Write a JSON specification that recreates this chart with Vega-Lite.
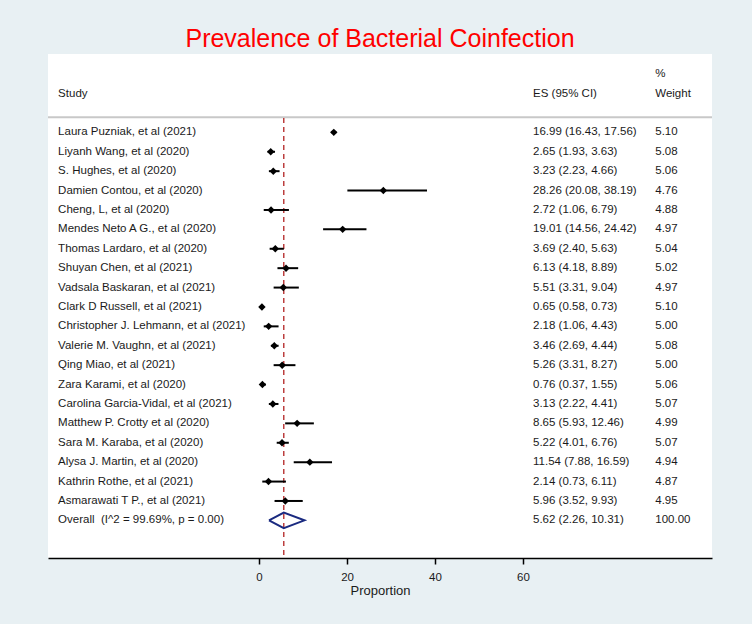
{
  "$schema": "https://vega.github.io/schema/vega-lite/v6.json",
  "width": 664,
  "height": 504,
  "autosize": {"type": "none"},
  "padding": {"left": 48, "top": 54, "right": 40, "bottom": 66},
  "background": "#e8f0f3",
  "title": {
    "text": "Prevalence of Bacterial Coinfection",
    "font": "Liberation Sans",
    "fontSize": 25,
    "fontWeight": "normal",
    "color": "#ff0000",
    "anchor": "middle",
    "frame": "group",
    "baseline": "bottom",
    "offset": -23
  },
  "config": {
    "view": {"fill": "white", "stroke": null},
    "text": {"font": "Liberation Sans", "fontSize": 11.5, "color": "#1a1a1a"}
  },
  "datasets": {
    "studies": [
      {"row": 1, "study": "Laura Puzniak, et al (2021)", "es": 16.99, "lo": 16.43, "hi": 17.56, "esci": "16.99 (16.43, 17.56)", "wt": "5.10"},
      {"row": 2, "study": "Liyanh Wang, et al (2020)", "es": 2.65, "lo": 1.93, "hi": 3.63, "esci": "2.65 (1.93, 3.63)", "wt": "5.08"},
      {"row": 3, "study": "S. Hughes, et al (2020)", "es": 3.23, "lo": 2.23, "hi": 4.66, "esci": "3.23 (2.23, 4.66)", "wt": "5.06"},
      {"row": 4, "study": "Damien Contou, et al (2020)", "es": 28.26, "lo": 20.08, "hi": 38.19, "esci": "28.26 (20.08, 38.19)", "wt": "4.76"},
      {"row": 5, "study": "Cheng, L, et al (2020)", "es": 2.72, "lo": 1.06, "hi": 6.79, "esci": "2.72 (1.06, 6.79)", "wt": "4.88"},
      {"row": 6, "study": "Mendes Neto A G., et al (2020)", "es": 19.01, "lo": 14.56, "hi": 24.42, "esci": "19.01 (14.56, 24.42)", "wt": "4.97"},
      {"row": 7, "study": "Thomas Lardaro, et al (2020)", "es": 3.69, "lo": 2.40, "hi": 5.63, "esci": "3.69 (2.40, 5.63)", "wt": "5.04"},
      {"row": 8, "study": "Shuyan Chen, et al (2021)", "es": 6.13, "lo": 4.18, "hi": 8.89, "esci": "6.13 (4.18, 8.89)", "wt": "5.02"},
      {"row": 9, "study": "Vadsala Baskaran, et al (2021)", "es": 5.51, "lo": 3.31, "hi": 9.04, "esci": "5.51 (3.31, 9.04)", "wt": "4.97"},
      {"row": 10, "study": "Clark D Russell, et al (2021)", "es": 0.65, "lo": 0.58, "hi": 0.73, "esci": "0.65 (0.58, 0.73)", "wt": "5.10"},
      {"row": 11, "study": "Christopher J. Lehmann, et al (2021)", "es": 2.18, "lo": 1.06, "hi": 4.43, "esci": "2.18 (1.06, 4.43)", "wt": "5.00"},
      {"row": 12, "study": "Valerie M. Vaughn, et al (2021)", "es": 3.46, "lo": 2.69, "hi": 4.44, "esci": "3.46 (2.69, 4.44)", "wt": "5.08"},
      {"row": 13, "study": "Qing Miao, et al (2021)", "es": 5.26, "lo": 3.31, "hi": 8.27, "esci": "5.26 (3.31, 8.27)", "wt": "5.00"},
      {"row": 14, "study": "Zara Karami, et al (2020)", "es": 0.76, "lo": 0.37, "hi": 1.55, "esci": "0.76 (0.37, 1.55)", "wt": "5.06"},
      {"row": 15, "study": "Carolina Garcia-Vidal, et al (2021)", "es": 3.13, "lo": 2.22, "hi": 4.41, "esci": "3.13 (2.22, 4.41)", "wt": "5.07"},
      {"row": 16, "study": "Matthew P. Crotty et al (2020)", "es": 8.65, "lo": 5.93, "hi": 12.46, "esci": "8.65 (5.93, 12.46)", "wt": "4.99"},
      {"row": 17, "study": "Sara M. Karaba, et al (2020)", "es": 5.22, "lo": 4.01, "hi": 6.76, "esci": "5.22 (4.01, 6.76)", "wt": "5.07"},
      {"row": 18, "study": "Alysa J. Martin, et al (2020)", "es": 11.54, "lo": 7.88, "hi": 16.59, "esci": "11.54 (7.88, 16.59)", "wt": "4.94"},
      {"row": 19, "study": "Kathrin Rothe, et al (2021)", "es": 2.14, "lo": 0.73, "hi": 6.11, "esci": "2.14 (0.73, 6.11)", "wt": "4.87"},
      {"row": 20, "study": "Asmarawati T P., et al (2021)", "es": 5.96, "lo": 3.52, "hi": 9.93, "esci": "5.96 (3.52, 9.93)", "wt": "4.95"}
    ],
    "overall": [
      {"row": 21, "study": "Overall\u00a0 (I^2 = 99.69%, p = 0.00)", "es": 5.62, "lo": 2.26, "hi": 10.31, "esci": "5.62 (2.26, 10.31)", "wt": "100.00"}
    ],
    "diamond": [
      {"i": 1, "x": 2.26, "y": 21},
      {"i": 2, "x": 5.62, "y": 20.6},
      {"i": 3, "x": 10.31, "y": 21},
      {"i": 4, "x": 5.62, "y": 21.4},
      {"i": 5, "x": 2.26, "y": 21}
    ],
    "headers": [
      {"label": "Study", "col": "study", "hrow": -1},
      {"label": "ES (95% CI)", "col": "es", "hrow": -1},
      {"label": "%", "col": "wt", "hrow": -2},
      {"label": "Weight", "col": "wt", "hrow": -1}
    ]
  },
  "encoding": {
    "x": {
      "type": "quantitative",
      "scale": {"domain": [-48, 103], "nice": false, "zero": false},
      "axis": {
        "values": [0, 20, 40, 60],
        "title": "Proportion",
        "grid": false,
        "domainColor": "#000000",
        "domainWidth": 1.5,
        "tickColor": "#000000",
        "tickWidth": 1.5,
        "tickSize": 6,
        "labelFont": "Liberation Sans",
        "labelFontSize": 11.5,
        "labelColor": "#1a1a1a",
        "labelPadding": 7,
        "titleFont": "Liberation Sans",
        "titleFontSize": 13,
        "titleFontWeight": "normal",
        "titleColor": "#1a1a1a",
        "titlePadding": 2
      }
    },
    "y": {
      "type": "quantitative",
      "scale": {"domain": [-3.04, 22.94], "nice": false, "zero": false, "reverse": true},
      "axis": null
    }
  },
  "layer": [
    {
      "data": {"values": [{}]},
      "mark": {"type": "rule", "color": "#c8c8c8", "strokeWidth": 2},
      "encoding": {"x": {"datum": -48}, "x2": {"datum": 103}, "y": {"datum": 0.22}}
    },
    {
      "data": {"values": [{}]},
      "mark": {"type": "rule", "color": "#b22222", "strokeWidth": 1.3, "strokeDash": [5, 4]},
      "encoding": {"x": {"datum": 5.62}, "y": {"datum": 0.26}, "y2": {"datum": 22.94}}
    },
    {
      "data": {"name": "studies"},
      "mark": {"type": "rule", "color": "#000000", "strokeWidth": 2},
      "encoding": {"x": {"field": "lo"}, "x2": {"field": "hi"}, "y": {"field": "row"}}
    },
    {
      "data": {"name": "studies"},
      "mark": {"type": "point", "shape": "diamond", "filled": true, "color": "#000000", "size": 55, "opacity": 1},
      "encoding": {"x": {"field": "es"}, "y": {"field": "row"}}
    },
    {
      "data": {"name": "diamond"},
      "mark": {"type": "line", "color": "#1a2a80", "strokeWidth": 2},
      "encoding": {"x": {"field": "x"}, "y": {"field": "y"}, "order": {"field": "i"}}
    },
    {
      "data": {"name": "studies"},
      "mark": {"type": "text", "align": "left", "baseline": "middle"},
      "encoding": {"x": {"datum": -45.7}, "y": {"field": "row"}, "text": {"field": "study"}}
    },
    {
      "data": {"name": "studies"},
      "mark": {"type": "text", "align": "left", "baseline": "middle"},
      "encoding": {"x": {"datum": 62.3}, "y": {"field": "row"}, "text": {"field": "esci"}}
    },
    {
      "data": {"name": "studies"},
      "mark": {"type": "text", "align": "left", "baseline": "middle"},
      "encoding": {"x": {"datum": 90.1}, "y": {"field": "row"}, "text": {"field": "wt"}}
    },
    {
      "data": {"name": "overall"},
      "mark": {"type": "text", "align": "left", "baseline": "middle"},
      "encoding": {"x": {"datum": -45.7}, "y": {"field": "row"}, "text": {"field": "study"}}
    },
    {
      "data": {"name": "overall"},
      "mark": {"type": "text", "align": "left", "baseline": "middle"},
      "encoding": {"x": {"datum": 62.3}, "y": {"field": "row"}, "text": {"field": "esci"}}
    },
    {
      "data": {"name": "overall"},
      "mark": {"type": "text", "align": "left", "baseline": "middle"},
      "encoding": {"x": {"datum": 90.1}, "y": {"field": "row"}, "text": {"field": "wt"}}
    },
    {
      "data": {"name": "headers"},
      "transform": [{"filter": "datum.col === 'study'"}],
      "mark": {"type": "text", "align": "left", "baseline": "middle"},
      "encoding": {"x": {"datum": -45.7}, "y": {"field": "hrow"}, "text": {"field": "label"}}
    },
    {
      "data": {"name": "headers"},
      "transform": [{"filter": "datum.col === 'es'"}],
      "mark": {"type": "text", "align": "left", "baseline": "middle"},
      "encoding": {"x": {"datum": 62.3}, "y": {"field": "hrow"}, "text": {"field": "label"}}
    },
    {
      "data": {"name": "headers"},
      "transform": [{"filter": "datum.col === 'wt'"}],
      "mark": {"type": "text", "align": "left", "baseline": "middle"},
      "encoding": {"x": {"datum": 90.1}, "y": {"field": "hrow"}, "text": {"field": "label"}}
    }
  ]
}
